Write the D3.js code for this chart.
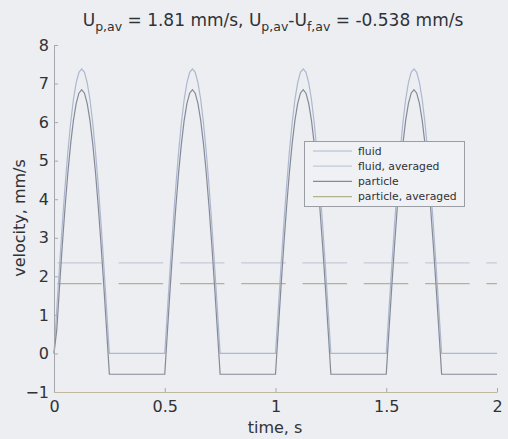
<!DOCTYPE html>
<html><head><meta charset="utf-8">
<script src="https://cdn.jsdelivr.net/npm/d3@7/dist/d3.min.js"></script>
<style>
html,body{margin:0;padding:0;background:#eceef2;}
svg{display:block;font-family:"DejaVu Sans",Verdana,sans-serif;}
</style></head>
<body>
<svg id="c" width="508" height="439"></svg>
<script>
// ---- data ----
const time = [
 0,0.0125,0.025,0.0375,0.05,0.0625,0.075,0.0875,0.1,0.1125,0.125,0.1375,0.15,0.1625,0.175,0.1875,0.2,0.2125,0.225,0.2375,0.25,
 0.5,0.5125,0.525,0.5375,0.55,0.5625,0.575,0.5875,0.6,0.6125,0.625,0.6375,0.65,0.6625,0.675,0.6875,0.7,0.7125,0.725,0.7375,0.75,
 1.0,1.0125,1.025,1.0375,1.05,1.0625,1.075,1.0875,1.1,1.1125,1.125,1.1375,1.15,1.1625,1.175,1.1875,1.2,1.2125,1.225,1.2375,1.25,
 1.5,1.5125,1.525,1.5375,1.55,1.5625,1.575,1.5875,1.6,1.6125,1.625,1.6375,1.65,1.6625,1.675,1.6875,1.7,1.7125,1.725,1.7375,1.75,
 2.0];
const fluid = [
 0,1.15,2.28,3.35,4.34,5.22,5.97,6.58,7.02,7.29,7.38,7.29,7.02,6.58,5.97,5.22,4.34,3.35,2.28,1.15,0,
 0,1.15,2.28,3.35,4.34,5.22,5.97,6.58,7.02,7.29,7.38,7.29,7.02,6.58,5.97,5.22,4.34,3.35,2.28,1.15,0,
 0,1.15,2.28,3.35,4.34,5.22,5.97,6.58,7.02,7.29,7.38,7.29,7.02,6.58,5.97,5.22,4.34,3.35,2.28,1.15,0,
 0,1.15,2.28,3.35,4.34,5.22,5.97,6.58,7.02,7.29,7.38,7.29,7.02,6.58,5.97,5.22,4.34,3.35,2.28,1.15,0,
 0];
const particle = [
 0,0.61,1.74,2.81,3.80,4.68,5.43,6.04,6.48,6.75,6.84,6.75,6.48,6.04,5.43,4.68,3.80,2.81,1.74,0.61,-0.54,
 -0.54,0.61,1.74,2.81,3.80,4.68,5.43,6.04,6.48,6.75,6.84,6.75,6.48,6.04,5.43,4.68,3.80,2.81,1.74,0.61,-0.54,
 -0.54,0.61,1.74,2.81,3.80,4.68,5.43,6.04,6.48,6.75,6.84,6.75,6.48,6.04,5.43,4.68,3.80,2.81,1.74,0.61,-0.54,
 -0.54,0.61,1.74,2.81,3.80,4.68,5.43,6.04,6.48,6.75,6.84,6.75,6.48,6.04,5.43,4.68,3.80,2.81,1.74,0.61,-0.54,
 -0.54];
const fluidAvg = 2.348;
const particleAvg = 1.81;
const xTicks = [0, 0.5, 1, 1.5, 2];
const xTickLabels = ["0", "0.5", "1", "1.5", "2"];
const yTicks = [-1, 0, 1, 2, 3, 4, 5, 6, 7, 8];
const legendLabels = ["fluid", "fluid, averaged", "particle", "particle, averaged"];

// ---- drawing ----
const svg = d3.select("#c");
const L = 54, R = 497, T = 45, B = 392;
const x = d3.scaleLinear().domain([0, 2]).range([L, R]);
const y = d3.scaleLinear().domain([-1, 8]).range([B, T]);

const col = {
  fluid: "#adb7d0",
  fluidAvg: "#c3cad6",
  particle: "#858a96",
  particleAvg: "#b2b48e"
};
const txt = "#303236";

// title
const title = svg.append("text").attr("x", 273).attr("y", 26)
  .attr("text-anchor", "middle").attr("font-size", 17).attr("fill", txt);
function sub(t){ title.append("tspan").attr("dy", 5).attr("font-size", 12.5).text(t); }
function norm(t){ title.append("tspan").attr("dy", -5).text(t); }
title.append("tspan").text("U"); sub("p,av"); norm(" = 1.81 mm/s, U"); sub("p,av"); norm("-U"); sub("f,av"); norm(" = -0.538 mm/s");

// averaged lines
const dash = "44.5,16.8";
[[fluidAvg, col.fluidAvg], [particleAvg, col.particleAvg]].forEach(([v, c]) => {
  svg.append("line").attr("x1", x(0)).attr("x2", x(2)).attr("y1", y(v)).attr("y2", y(v))
    .attr("stroke", c).attr("stroke-width", 1.1)
    .attr("stroke-dasharray", dash).attr("stroke-dashoffset", 58);
});

// curves
const idx = d3.range(time.length);
const lineF = d3.line().x(i => x(time[i])).y(i => y(fluid[i]));
const lineP = d3.line().x(i => x(time[i])).y(i => y(particle[i]));
svg.append("path").attr("d", lineF(idx)).attr("fill", "none").attr("stroke", col.fluid).attr("stroke-width", 1.2);
svg.append("path").attr("d", lineP(idx)).attr("fill", "none").attr("stroke", col.particle).attr("stroke-width", 1.2);

// axes
const yAxis = d3.axisLeft(y).tickValues(yTicks).tickSizeInner(-4).tickSizeOuter(0).tickPadding(5);
const gy = svg.append("g").attr("transform", `translate(${L},0)`).call(yAxis);
gy.select(".domain").attr("stroke", "#a4a8ae");
gy.selectAll(".tick line").attr("stroke", "#a4a8ae");
gy.selectAll(".tick text").attr("font-size", 16).attr("fill", txt)
  .attr("font-family", "DejaVu Sans, Verdana, sans-serif");

const xAxis = d3.axisBottom(x).tickValues(xTicks).tickFormat((d, i) => xTickLabels[i])
  .tickSizeInner(-4).tickSizeOuter(0).tickPadding(9);
const gx = svg.append("g").attr("transform", `translate(0,${B})`).call(xAxis);
gx.select(".domain").attr("stroke", "#c2b89e");
gx.selectAll(".tick line").attr("stroke", "#a4a8ae");
gx.selectAll(".tick text").attr("font-size", 16).attr("fill", txt)
  .attr("font-family", "DejaVu Sans, Verdana, sans-serif");

// axis labels
svg.append("text").attr("x", 275).attr("y", 433).attr("text-anchor", "middle")
  .attr("font-size", 16).attr("fill", txt).text("time, s");
svg.append("text").attr("transform", "translate(25,218) rotate(-90)").attr("text-anchor", "middle")
  .attr("font-size", 16).attr("fill", txt).text("velocity, mm/s");

// legend
const lg = svg.append("g");
lg.append("rect").attr("x", 304.5).attr("y", 141.5).attr("width", 160).attr("height", 65)
  .attr("fill", "#eff1f4").attr("stroke", "#9a9ea4").attr("stroke-width", 1);
const lcols = [col.fluid, col.fluidAvg, col.particle, col.particleAvg];
legendLabels.forEach((t, i) => {
  const yy = 151 + i * 15.2;
  lg.append("line").attr("x1", 313).attr("x2", 352).attr("y1", yy).attr("y2", yy)
    .attr("stroke", lcols[i]).attr("stroke-width", 1.2);
  lg.append("text").attr("x", 358).attr("y", yy + 3.8).attr("font-size", 10.8).attr("fill", txt).text(t);
});
</script>
</body></html>
